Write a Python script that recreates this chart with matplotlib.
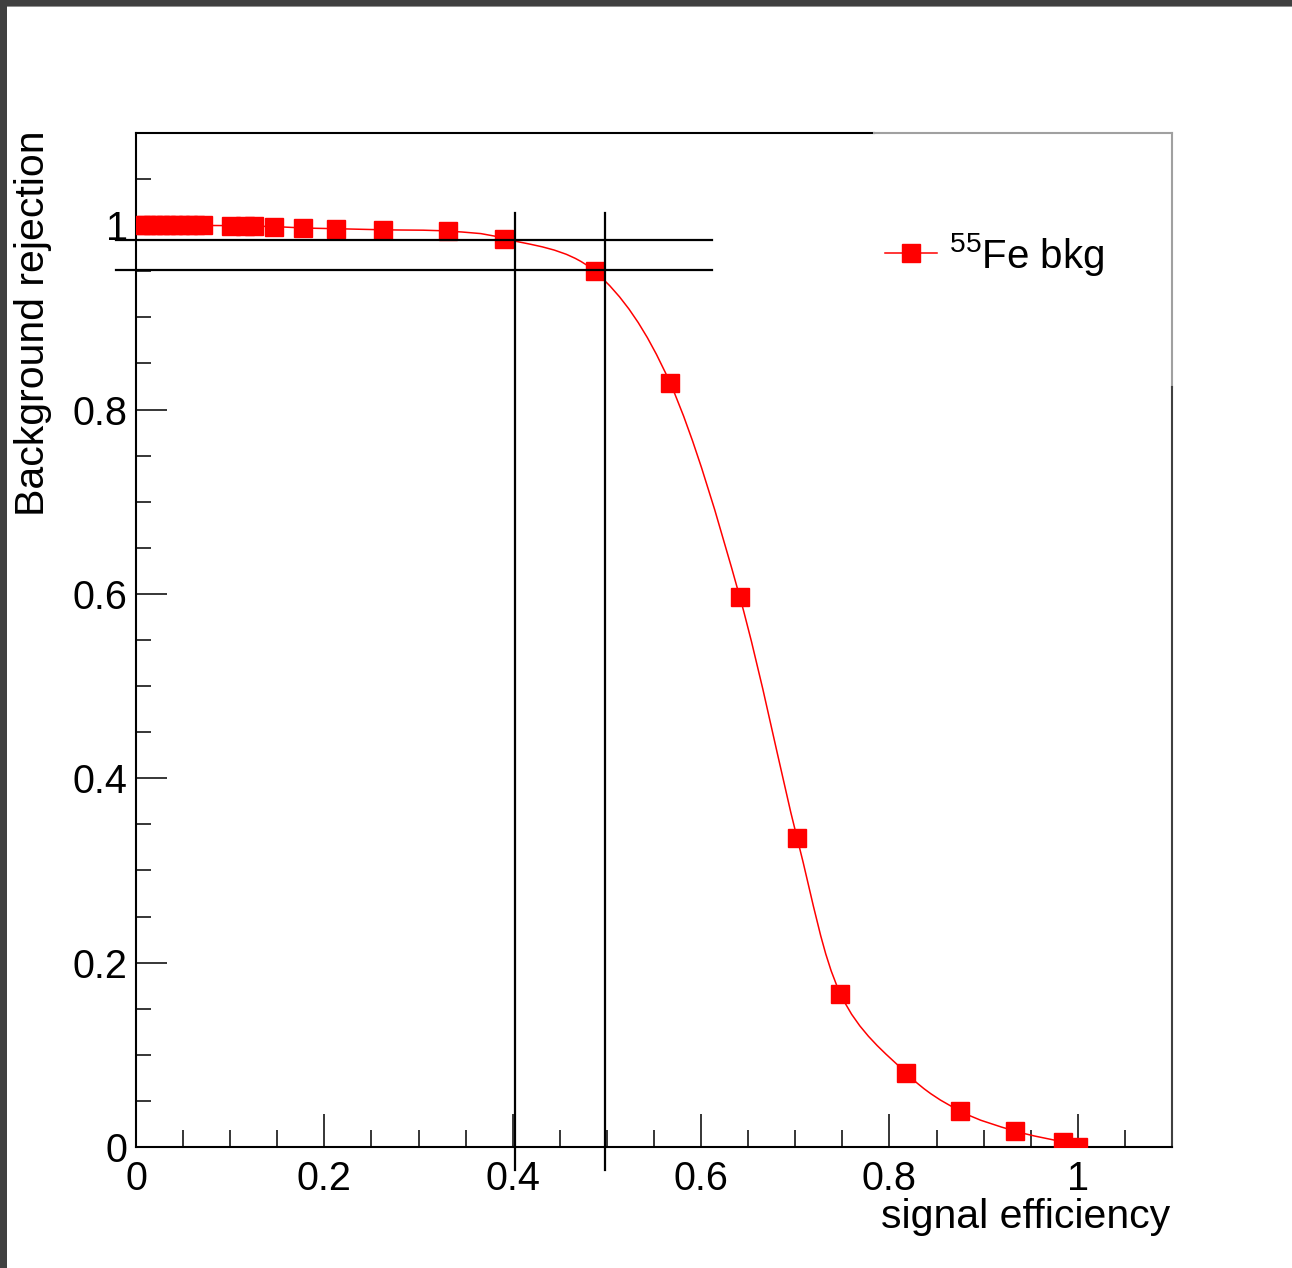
import numpy as np
import matplotlib
matplotlib.use("Agg")
import matplotlib.pyplot as plt
from matplotlib.path import Path
from matplotlib.patches import PathPatch, Rectangle
from matplotlib.lines import Line2D
from matplotlib.ticker import MultipleLocator, FuncFormatter

plt.rcParams['font.family'] = ['Liberation Sans', 'DejaVu Sans']
plt.rcParams['mathtext.fontset'] = 'custom'
plt.rcParams['mathtext.rm'] = 'Liberation Sans'
plt.rcParams['mathtext.default'] = 'regular'

# ROC points: signal efficiency vs background rejection (55Fe)
eff = [0.005, 0.011, 0.018, 0.025, 0.032, 0.039, 0.047, 0.055, 0.063, 0.071,
       0.101, 0.116, 0.125, 0.147, 0.177, 0.212, 0.262, 0.331, 0.391, 0.487,
       0.567, 0.641, 0.702, 0.748, 0.818, 0.875, 0.933, 0.984, 1.000]
rej = [1.000, 1.000, 1.000, 1.000, 1.000, 1.000, 1.000, 1.000, 0.9998, 0.9997,
       0.9995, 0.999, 0.9988, 0.9985, 0.997, 0.9962, 0.995, 0.9935, 0.9855, 0.950,
       0.829, 0.597, 0.335, 0.166, 0.080, 0.039, 0.0174, 0.0054, 0.0]

# working points
eff_cuts = [0.402, 0.498]
rej_cuts = [0.984, 0.951]

series_label = r'$^{55}$Fe bkg'


def smooth_path(x, y):
    # Catmull-Rom spline through the points, as cubic Bezier segments
    p = np.column_stack([x, y])
    n = len(p)
    verts = [p[0]]
    codes = [Path.MOVETO]
    for i in range(n - 1):
        p0 = p[i - 1] if i > 0 else p[i]
        p1 = p[i]
        p2 = p[i + 1]
        p3 = p[i + 2] if i + 2 < n else p[i + 1]
        c1 = p1 + (p2 - p0) / 6.0
        c2 = p2 - (p3 - p1) / 6.0
        verts += [c1, c2, p2]
        codes += [Path.CURVE4] * 3
    return Path(verts, codes)


W, H = 1292, 1268
fig = plt.figure(figsize=(W / 100, H / 100), dpi=100)

# window frame
fig.patches.append(Rectangle((0, 1 - 6 / H), 1, 6 / H, transform=fig.transFigure,
                             facecolor='#404040', edgecolor='none', zorder=0))
fig.patches.append(Rectangle((0, 1 - 7 / H), 1, 1.2 / H, transform=fig.transFigure,
                             facecolor='#909090', edgecolor='none', zorder=0))
fig.patches.append(Rectangle((0, 0), 7 / W, 1, transform=fig.transFigure,
                             facecolor='#404040', edgecolor='none', zorder=1))

x0, x1, y0, y1 = 136, 1172, 133, 1147
ax = fig.add_axes([x0 / W, (H - y1) / H, (x1 - x0) / W, (y1 - y0) / H])
ax.set_xlim(0, 1.1)
ax.set_ylim(0, 1.1)

# red smooth curve + square markers
ax.add_patch(PathPatch(smooth_path(eff, rej), facecolor='none', edgecolor='red',
                       lw=1.1, zorder=3))
ax.plot(eff, rej, ls='none', marker='s', ms=13, color='red', mec='red', zorder=4)

# cut lines
for xc in eff_cuts:
    ax.plot([xc, xc], [-0.025, 1.0136], color='black', lw=1.6, clip_on=False, zorder=5)
for yc in rej_cuts:
    ax.plot([-0.0212, 0.6115], [yc, yc], color='black', lw=1.6, clip_on=False, zorder=5)

# frame
for s in ['top', 'right']:
    ax.spines[s].set_visible(False)
for s in ['left', 'bottom']:
    ax.spines[s].set_linewidth(1.5)
ax.plot([0, 0.7124], [1, 1], transform=ax.transAxes, color='black', lw=1.5, clip_on=False)
ax.plot([0.7124, 1], [1, 1], transform=ax.transAxes, color='#a0a0a0', lw=1.5, clip_on=False)
ax.plot([1, 1], [0.7495, 1], transform=ax.transAxes, color='#a0a0a0', lw=1.5, clip_on=False)
ax.plot([1, 1], [0, 0.7495], transform=ax.transAxes, color='#404040', lw=1.5, clip_on=False)

fmt = FuncFormatter(lambda v, pos: '%g' % round(v, 2))
ax.xaxis.set_major_locator(MultipleLocator(0.2))
ax.xaxis.set_minor_locator(MultipleLocator(0.05))
ax.yaxis.set_major_locator(MultipleLocator(0.2))
ax.yaxis.set_minor_locator(MultipleLocator(0.05))
ax.xaxis.set_major_formatter(fmt)
ax.yaxis.set_major_formatter(fmt)
ax.tick_params(axis='x', which='major', direction='in', length=24, width=1.1,
               labelsize=28.5, pad=9, top=False)
ax.tick_params(axis='x', which='minor', direction='in', length=12, width=1.1, top=False)
ax.tick_params(axis='y', which='major', direction='in', length=22, width=1.1,
               labelsize=28.5, pad=6, right=False)
ax.tick_params(axis='y', which='minor', direction='in', length=11, width=1.1, right=False)

# legend
handle = Line2D([], [], color='red', lw=1.1, marker='s', ms=13, mec='red')
ax.legend([handle], [series_label], loc='center left',
          bbox_to_anchor=((885 - x0) / (x1 - x0), (y1 - 254) / (y1 - y0)),
          frameon=False, fontsize=29, borderpad=0, borderaxespad=0,
          handlelength=1.3, handletextpad=0.3)

fig.text(1170 / W, (H - 1228) / H, 'signal efficiency', ha='right', va='baseline',
         fontsize=29.5)
fig.text(33 / W, (H - 131) / H, 'Background rejection', ha='center', va='top',
         rotation=90, fontsize=29.5)

fig.savefig('out.png', dpi=100, facecolor='white')
